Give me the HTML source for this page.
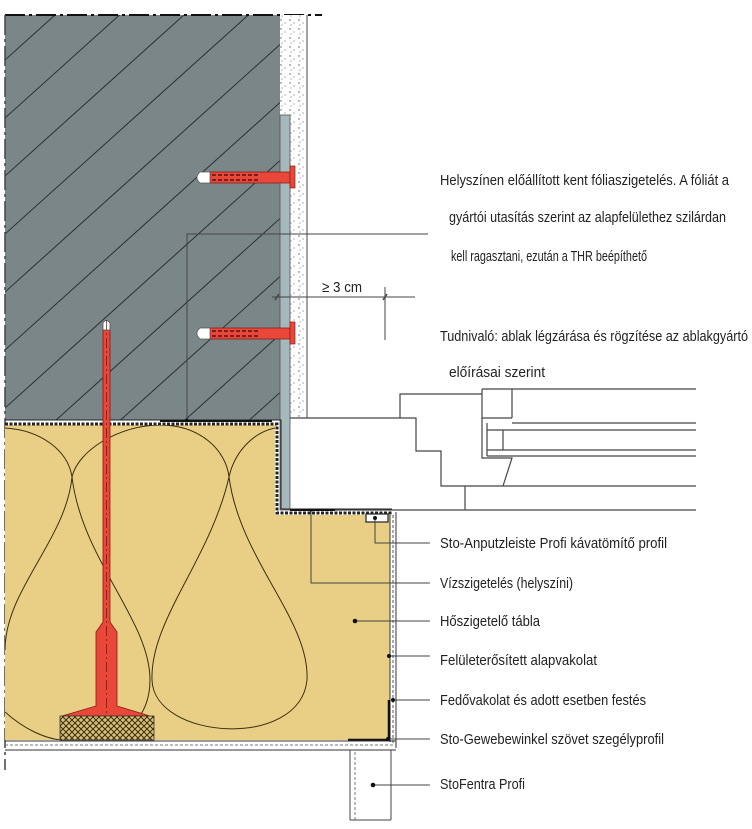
<!DOCTYPE html>
<html><head><meta charset="utf-8"><style>
html,body{margin:0;padding:0;background:#fff;overflow:hidden;width:752px;height:829px;}
svg{display:block;}
text{font-family:"Liberation Sans Narrow","Liberation Sans",sans-serif;font-size:15px;fill:#222;}
</style></head><body>
<svg width="752" height="829" viewBox="0 0 752 829" xmlns="http://www.w3.org/2000/svg">
<defs>
<clipPath id="wallclip"><rect x="5" y="15" width="275" height="405"/></clipPath>
<clipPath id="insclip"><path d="M5,425 L275,425 L275,515 L390,515 L390,740 L5,740 Z"/></clipPath>
<pattern id="speck" width="9" height="9" patternUnits="userSpaceOnUse">
<rect width="9" height="9" fill="#fff"/>
<circle cx="2" cy="2" r="0.7" fill="#555"/><circle cx="6" cy="5" r="0.6" fill="#777"/><circle cx="3" cy="7" r="0.5" fill="#444"/>
</pattern>
<pattern id="hatch" width="6" height="6" patternUnits="userSpaceOnUse">
<rect width="6" height="6" fill="#d9c079"/>
<path d="M0,0 L6,6 M6,0 L0,6" stroke="#3a2e10" stroke-width="1"/>
</pattern>
</defs>

<rect x="5" y="15" width="275" height="405" fill="#7b8689"/>
<g clip-path="url(#wallclip)" stroke="#2a3030" stroke-width="1">
<line x1="0" y1="64.5" x2="300" y2="-205.5"/>
<line x1="0" y1="122.5" x2="300" y2="-147.5"/>
<line x1="0" y1="180.5" x2="300" y2="-89.5"/>
<line x1="0" y1="238.5" x2="300" y2="-31.5"/>
<line x1="0" y1="296.5" x2="300" y2="26.5"/>
<line x1="0" y1="354.5" x2="300" y2="84.5"/>
<line x1="0" y1="412.5" x2="300" y2="142.5"/>
<line x1="0" y1="470.5" x2="300" y2="200.5"/>
<line x1="0" y1="528.5" x2="300" y2="258.5"/>
<line x1="0" y1="586.5" x2="300" y2="316.5"/>
<line x1="0" y1="644.5" x2="300" y2="374.5"/>
<line x1="0" y1="702.5" x2="300" y2="432.5"/>
</g>
<line x1="5" y1="15" x2="322" y2="15" stroke="#111" stroke-width="2" stroke-dasharray="20,4,3,4"/>
<line x1="5" y1="15" x2="5" y2="770" stroke="#444" stroke-width="1.5" stroke-dasharray="20,4,3,4"/>

<rect x="280" y="15" width="27" height="403" fill="url(#speck)"/>
<line x1="307" y1="15" x2="307" y2="418" stroke="#444" stroke-width="1"/>
<rect x="280" y="115" width="10" height="395" fill="#a5b8bc" stroke="#555" stroke-width="0.8"/>

<g fill="none" stroke="#444" stroke-width="1.2">
<path d="M290,418 L416,418 L416,451 L441,451 L441,486 L503,486"/>
<path d="M400,418 L400,394 L482,394"/>
<path d="M482,389 L482,458 L512,458 L503,486"/>
<path d="M512,389 L512,418 M482,418 L512,418"/>
<path d="M482,389 L696,389"/>
<path d="M512,423 L696,423 M487,430 L696,430 M487,450 L696,450 M487,456 L696,456"/>
<path d="M487,423 L487,456 M503,430 L503,450"/>
<path d="M503,486 L696,486 M465,486 L465,510 M290,510 L696,510"/>
</g>

<path d="M5,425 L275,425 L275,515 L390,515 L390,740 L5,740 Z" fill="#e9cf85"/>
<g clip-path="url(#insclip)" fill="none" stroke="#3a2e10" stroke-width="1">
<path d="M5,428 C40,430 68,450 72,477 C78,450 120,425 160,425 C200,425 226,450 229,477 C235,450 255,432 275,428"/>
<path d="M72,477 C66,540 5,590 5,650"/>
<path d="M72,477 C82,560 150,620 150,680 C150,720 120,740 100,742"/>
<path d="M229,477 C210,560 150,620 152,680 C154,740 300,750 307,680 C310,620 240,560 229,477"/>
<path d="M5,712 C25,730 45,738 60,740"/>
</g>
<path d="M5,424 L277,424 L277,513 L392,513" fill="none" stroke="#222" stroke-width="3" stroke-dasharray="3,1.5"/>
<path d="M5,420 L281,420 L281,509 L392,509" fill="none" stroke="#222" stroke-width="1"/>
<line x1="160" y1="421" x2="272" y2="421" stroke="#111" stroke-width="2"/>
<line x1="290" y1="510" x2="335" y2="510" stroke="#111" stroke-width="2"/>
<rect x="366" y="514" width="22" height="8" fill="#fff" stroke="#222" stroke-width="1.2"/>
<line x1="390" y1="515" x2="390" y2="742" stroke="#333" stroke-width="1"/>
<line x1="393" y1="515" x2="393" y2="745" stroke="#555" stroke-width="1" stroke-dasharray="3,2"/>
<line x1="396" y1="512" x2="396" y2="748" stroke="#333" stroke-width="1"/>
<line x1="389" y1="700" x2="389" y2="740" stroke="#111" stroke-width="2.5"/>
<line x1="348" y1="740" x2="389" y2="740" stroke="#111" stroke-width="2.5"/>
<line x1="5" y1="741" x2="396" y2="741" stroke="#333" stroke-width="1"/>
<line x1="5" y1="745" x2="396" y2="745" stroke="#777" stroke-width="1" stroke-dasharray="3,2"/>
<line x1="5" y1="750" x2="396" y2="750" stroke="#333" stroke-width="1"/>
<line x1="350" y1="750" x2="350" y2="820" stroke="#444"/>
<line x1="355" y1="752" x2="355" y2="820" stroke="#777" stroke-dasharray="3,2"/>
<line x1="391" y1="750" x2="391" y2="820" stroke="#444"/>
<line x1="350" y1="820" x2="391" y2="820" stroke="#444"/>

<path d="M103,330 L110,330 L110,622 L117,632 L117,706 L150,716 L62,716 L96,706 L96,632 L103,622 Z" fill="#e8473a" stroke="#8a1a14" stroke-width="0.8"/>
<path d="M103,330 L103,323 Q106,318 110,323 L110,330 Z" fill="#fff" stroke="#555" stroke-width="0.8"/>
<line x1="106.5" y1="320" x2="106.5" y2="740" stroke="#5a1a10" stroke-width="0.7" stroke-dasharray="10,3,2,3"/>
<rect x="60" y="716" width="94" height="24" fill="url(#hatch)" stroke="#333" stroke-width="0.8"/>

<g>
<path d="M210,172 L290,172 L290,183 L210,183 Z" fill="#e8473a" stroke="#8a1a14" stroke-width="0.7"/>
<path d="M210,172 L200,172 Q194,177.5 200,183 L210,183 Z" fill="#fff" stroke="#555" stroke-width="0.7"/>
<rect x="290" y="166" width="5" height="22" fill="#e8473a" stroke="#8a1a14" stroke-width="0.7"/>
<path d="M212,175 L260,175 M212,180 L260,180" stroke="#5a1010" stroke-width="1.5" stroke-dasharray="4,2"/>
</g>
<g transform="translate(0,156)">
<path d="M210,172 L290,172 L290,183 L210,183 Z" fill="#e8473a" stroke="#8a1a14" stroke-width="0.7"/>
<path d="M210,172 L200,172 Q194,177.5 200,183 L210,183 Z" fill="#fff" stroke="#555" stroke-width="0.7"/>
<rect x="290" y="166" width="5" height="22" fill="#e8473a" stroke="#8a1a14" stroke-width="0.7"/>
<path d="M212,175 L260,175 M212,180 L260,180" stroke="#5a1010" stroke-width="1.5" stroke-dasharray="4,2"/>
</g>

<g fill="none" stroke="#444" stroke-width="1">
<path d="M428,234 L187,234 L187,420"/>
<path d="M272,297 L415,297 M385,287 L385,340"/>
<path d="M275,300 L279,294 M383,300 L387,294" stroke-width="1.5"/>
<path d="M430,543 L375,543 L375,518"/>
<path d="M430,583 L311,583 L311,510"/>
<path d="M430,621 L355,621"/>
<path d="M430,656 L389,656"/>
<path d="M430,700 L393,700"/>
<path d="M430,739 L388,739"/>
<path d="M430,785 L373,785"/>
</g>
<g fill="#111">
<circle cx="375" cy="518" r="2"/><circle cx="355" cy="621" r="2.3"/><circle cx="389" cy="656" r="2"/>
<circle cx="393" cy="700" r="2"/><circle cx="388" cy="739" r="2"/><circle cx="373" cy="785" r="2.3"/>
<circle cx="311" cy="510" r="1.5"/><circle cx="187" cy="420" r="1.5"/>
</g>

<text x="322" y="292" textLength="40" lengthAdjust="spacingAndGlyphs">≥ 3 cm</text>
<text x="440" y="185" textLength="289" lengthAdjust="spacingAndGlyphs">Helyszínen előállított kent fóliaszigetelés. A fóliát a</text>
<text x="449" y="222" textLength="277" lengthAdjust="spacingAndGlyphs">gyártói utasítás szerint az alapfelülethez szilárdan</text>
<text x="451" y="261" textLength="196" lengthAdjust="spacingAndGlyphs">kell ragasztani, ezután a THR beépíthető</text>
<text x="440" y="341" textLength="308" lengthAdjust="spacingAndGlyphs">Tudnivaló: ablak légzárása és rögzítése az ablakgyártó</text>
<text x="449" y="377" textLength="96" lengthAdjust="spacingAndGlyphs">előírásai szerint</text>
<text x="440" y="548" textLength="227" lengthAdjust="spacingAndGlyphs">Sto-Anputzleiste Profi kávatömítő profil</text>
<text x="440" y="588" textLength="133" lengthAdjust="spacingAndGlyphs">Vízszigetelés (helyszíni)</text>
<text x="440" y="626" textLength="100" lengthAdjust="spacingAndGlyphs">Hőszigetelő tábla</text>
<text x="440" y="665" textLength="157" lengthAdjust="spacingAndGlyphs">Felületerősített alapvakolat</text>
<text x="440" y="705" textLength="206" lengthAdjust="spacingAndGlyphs">Fedővakolat és adott esetben festés</text>
<text x="440" y="744" textLength="224" lengthAdjust="spacingAndGlyphs">Sto-Gewebewinkel szövet szegélyprofil</text>
<text x="440" y="789" textLength="85" lengthAdjust="spacingAndGlyphs">StoFentra Profi</text>
</svg>
</body></html>
